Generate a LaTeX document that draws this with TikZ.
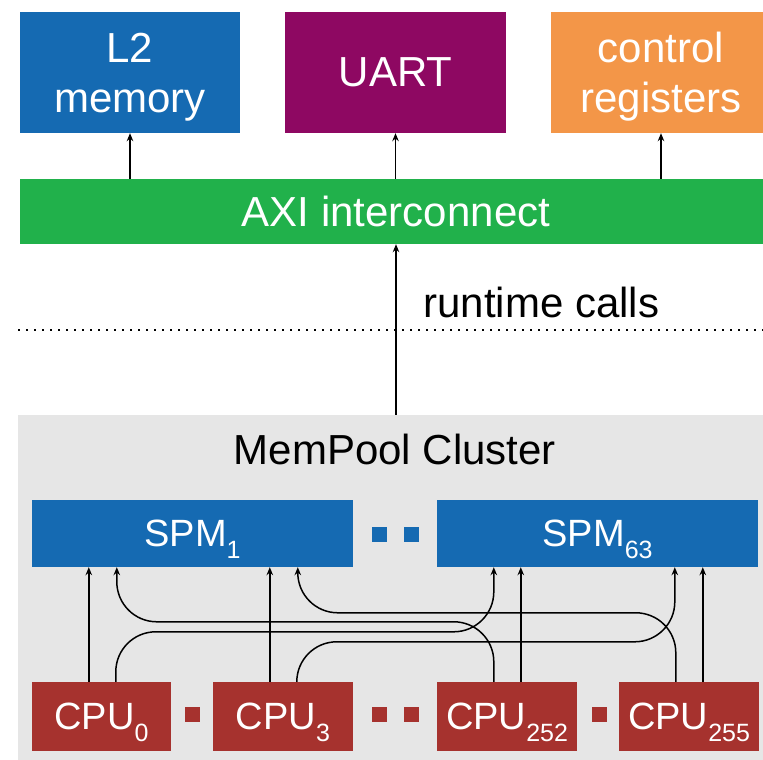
\documentclass[tikz,border=0pt]{standalone}
\usepackage{fontspec}
\setmainfont{Liberation Sans}
\usetikzlibrary{positioning,arrows.meta}

\definecolor{memblue}{RGB}{21,106,178}
\definecolor{uartpurple}{RGB}{142,8,98}
\definecolor{regorange}{RGB}{243,150,72}
\definecolor{axigreen}{RGB}{33,177,75}
\definecolor{clustergray}{RGB}{230,230,230}
\definecolor{cpured}{RGB}{166,50,46}

% lowered index, as in SPM_1 or CPU_0
\newcommand{\idx}[1]{{\fontsize{25}{25}\selectfont\raisebox{-12pt}{#1}}}

\tikzset{
	periph/.style={minimum width=220, minimum height=121, inner sep=0, text=white, align=center,
		text depth=0pt, font=\fontsize{42}{50}\selectfont},
	spmbox/.style={fill=memblue, minimum width=321, minimum height=67, inner sep=0, text=white,
		text depth=0pt, font=\fontsize{38}{44}\selectfont},
	cpubox/.style={fill=cpured, minimum width=140, minimum height=69, inner sep=0, text=white,
		text depth=0pt, font=\fontsize{38}{44}\selectfont},
	dotsq/.style={minimum size=15, inner sep=0},
	conn/.style={->, line width=1.5pt},
}

\begin{document}
\begin{tikzpicture}[x=1pt,y=1pt,>={Stealth[length=8pt,width=6.5pt]}]
	\useasboundingbox (0,0) rectangle (763,760);
	\clip (0,0) rectangle (763,760);

	% cluster background
	\node[fill=clustergray, minimum width=756, minimum height=350, inner sep=0] (cluster) at (396,170) {};
	\node[anchor=base, font=\fontsize{42}{50}\selectfont] (title) at (395,295) {MemPool Cluster};

	% peripherals
	\node[periph, fill=memblue] (l2) at (130,687.5) {L2\\memory};
	\node[periph, fill=uartpurple, minimum width=221] (uart) at (395.5,687.5) {UART};
	\node[periph, fill=regorange] (ctrl) at (661,687.5) {control\\registers};
	\node[periph, fill=axigreen, minimum width=752, minimum height=65] (axi) at (396,548.5) {AXI interconnect};

	\draw[conn] (axi.north -| l2) -- (l2.south);
	\draw[conn] (axi.north -| uart) -- (uart.south);
	\draw[conn] (axi.north -| ctrl) -- (ctrl.south);

	\draw[conn] (cluster.north) -- (axi.south);
	\node[anchor=base west, font=\fontsize{42}{50}\selectfont] (calls) at (420,442) {runtime calls};
	\draw[dash pattern=on 2pt off 6pt, line width=1.8pt] (18,430) -- (763,430);

	% memories
	\node[spmbox] (spm1) at (192.5,226.5) {SPM\idx{1}};
	\node[spmbox] (spm63) at (597.5,226.5) {SPM\idx{63}};
	\node[dotsq, fill=memblue] (bdot1) at (379.5,225.5) {};
	\node[dotsq, fill=memblue] (bdot2) at (411,225.5) {};

	% cores
	\node[cpubox, minimum width=139] (cpu0) at (101.5,43.5) {CPU\idx{0}};
	\node[cpubox] (cpu3) at (283,43.5) {CPU\idx{3}};
	\node[cpubox] (cpu252) at (507,43.5) {CPU\idx{252}};
	\node[cpubox] (cpu255) at (689,43.5) {CPU\idx{255}};
	\node[dotsq, fill=cpured] (rdot1) at (192.5,45) {};
	\node[dotsq, fill=cpured] (rdot2) at (379.5,45) {};
	\node[dotsq, fill=cpured] (rdot3) at (411,45) {};
	\node[dotsq, fill=cpured] (rdot4) at (599,45) {};

	% ports
	\foreach \cpu in {cpu0,cpu3,cpu252,cpu255}{
		\coordinate (\cpu-a) at ([xshift=57]\cpu.north west);
		\coordinate (\cpu-b) at ([xshift=84]\cpu.north west);
	}
	\foreach \spm in {spm1,spm63}{
		\coordinate (\spm-a) at ([xshift=57]\spm.south west);
		\coordinate (\spm-b) at ([xshift=85]\spm.south west);
		\coordinate (\spm-c) at ([xshift=238]\spm.south west);
		\coordinate (\spm-d) at ([xshift=266]\spm.south west);
	}

	% local accesses
	\draw[conn] (cpu0-a) -- (cpu0-a |- spm1.south);
	\draw[conn] (cpu3-a) -- (cpu3-a |- spm1.south);
	\draw[conn] (cpu252-b) -- (cpu252-b |- spm63.south);
	\draw[conn] (cpu255-b) -- (cpu255-b |- spm63.south);

	% remote accesses
	\draw[conn, rounded corners=40] (cpu0-b) -- ++(0,50) -| (spm63-a);
	\draw[conn, rounded corners=40] (cpu3-b) -- ++(0,40) -| (spm63-c);
	\draw[conn, rounded corners=40] (cpu252-a) -- ++(0,60) -| (spm1-b);
	\draw[conn, rounded corners=40] (cpu255-a) -- ++(0,69) -| (spm1-d);

\end{tikzpicture}
\end{document}
